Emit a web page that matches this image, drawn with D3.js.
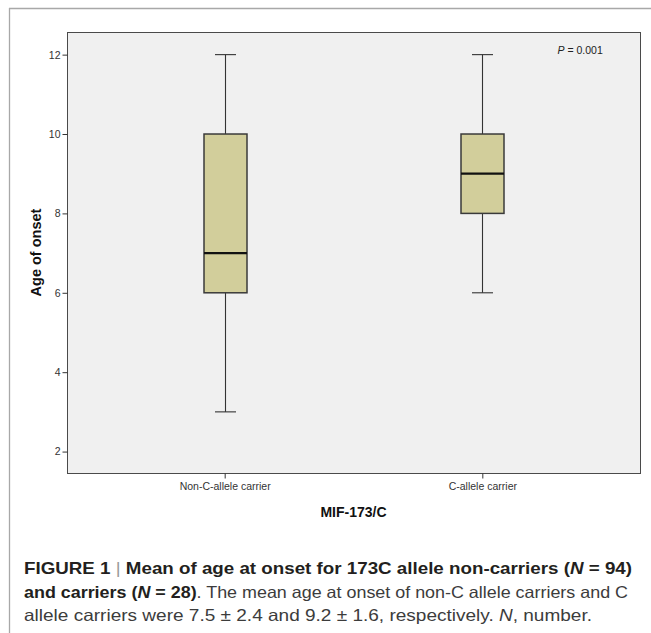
<!DOCTYPE html>
<html>
<head>
<meta charset="utf-8">
<script src="https://cdn.jsdelivr.net/npm/d3@7/dist/d3.min.js"></script>
<style>
  html, body { margin: 0; padding: 0; background: #fff; }
  svg { display: block; }
</style>
</head>
<body>
<svg id="chart" width="651" height="633"></svg>
<script>
// ---- data ----
const categories = ["Non-C-allele carrier", "C-allele carrier"];
const whiskerLow  = [3, 6];
const quartile1   = [6, 8];
const medians     = [7, 9];
const quartile3   = [10, 10];
const whiskerHigh = [12, 12];
const yTicks = [2, 4, 6, 8, 10, 12];
const yTitle = "Age of onset";
const xTitle = "MIF-173/C";
const pText = ["P", " = 0.001"];

const boxes = categories.map((c, i) => ({
  cat: c, lo: whiskerLow[i], q1: quartile1[i], med: medians[i], q3: quartile3[i], hi: whiskerHigh[i]
}));

// ---- layout ----
const svg = d3.select("#chart");
const plot = { left: 67, right: 640, top: 32, bottom: 473 };
const font = "Liberation Sans, Arial, Helvetica, sans-serif";

// figure frame (top and left rules)
svg.append("line").attr("x1", 9).attr("x2", 651).attr("y1", 8.5).attr("y2", 8.5)
  .attr("stroke", "#a8a8a8").attr("stroke-width", 1.3);
svg.append("line").attr("x1", 9.5).attr("x2", 9.5).attr("y1", 8).attr("y2", 633)
  .attr("stroke", "#a8a8a8").attr("stroke-width", 1.3);

const y = d3.scaleLinear().domain([1.46, 12.57]).range([plot.bottom, plot.top]);
const x = d3.scalePoint().domain(categories).range([plot.left, plot.right]).padding(0.612);

// plot background
svg.append("rect")
  .attr("x", plot.left + 0.5).attr("y", plot.top + 0.5)
  .attr("width", plot.right - plot.left).attr("height", plot.bottom - plot.top)
  .attr("fill", "#f0f0f0").attr("stroke", "#4a4a4a").attr("stroke-width", 1);

// y axis
const yAxis = svg.append("g")
  .attr("transform", `translate(${plot.left + 0.5},0)`)
  .call(d3.axisLeft(y).tickValues(yTicks).tickSize(5).tickPadding(2).tickFormat(d3.format("d")));
yAxis.select(".domain").remove();
yAxis.selectAll(".tick line").attr("stroke", "#333");
yAxis.selectAll(".tick text").attr("fill", "#333").style("font-family", font).style("font-size", "10.5px");

// x axis
const xAxis = svg.append("g")
  .attr("transform", `translate(0,${plot.bottom + 0.5})`)
  .call(d3.axisBottom(x).tickSize(5).tickPadding(4));
xAxis.select(".domain").remove();
xAxis.selectAll(".tick line").attr("stroke", "#333");
xAxis.selectAll(".tick text").attr("fill", "#333").style("font-family", font).style("font-size", "10.5px");

// boxes
const boxW = 43, capW = 21;
const g = svg.append("g");
boxes.forEach(b => {
  const cx = Math.round(x(b.cat)) + 0.5;
  // whiskers
  g.append("line").attr("x1", cx).attr("x2", cx).attr("y1", y(b.hi)).attr("y2", y(b.q3))
    .attr("stroke", "#333").attr("stroke-width", 1.1);
  g.append("line").attr("x1", cx).attr("x2", cx).attr("y1", y(b.q1)).attr("y2", y(b.lo))
    .attr("stroke", "#333").attr("stroke-width", 1.1);
  g.append("line").attr("x1", cx - capW / 2).attr("x2", cx + capW / 2).attr("y1", y(b.hi)).attr("y2", y(b.hi))
    .attr("stroke", "#333").attr("stroke-width", 1.1);
  g.append("line").attr("x1", cx - capW / 2).attr("x2", cx + capW / 2).attr("y1", y(b.lo)).attr("y2", y(b.lo))
    .attr("stroke", "#333").attr("stroke-width", 1.1);
  // box
  g.append("rect").attr("x", cx - boxW / 2).attr("width", boxW)
    .attr("y", y(b.q3)).attr("height", y(b.q1) - y(b.q3))
    .attr("fill", "#d2ce9b").attr("stroke", "#3a3a3a").attr("stroke-width", 1.5);
  // median
  g.append("line").attr("x1", cx - boxW / 2).attr("x2", cx + boxW / 2).attr("y1", y(b.med)).attr("y2", y(b.med))
    .attr("stroke", "#111").attr("stroke-width", 2.2);
});

// P value
const pt = svg.append("text").attr("x", 557.5).attr("y", 54)
  .style("font-family", font).style("font-size", "10.5px").attr("fill", "#222");
pt.append("tspan").style("font-style", "italic").text(pText[0]);
pt.append("tspan").text(pText[1]);

// axis titles
svg.append("text")
  .attr("transform", `translate(40.5,${(plot.top + plot.bottom) / 2}) rotate(-90)`)
  .attr("text-anchor", "middle")
  .style("font-family", font).style("font-size", "14.5px").style("font-weight", "bold").attr("fill", "#111")
  .text(yTitle);
svg.append("text")
  .attr("x", (plot.left + plot.right) / 2).attr("y", 516.5)
  .attr("text-anchor", "middle")
  .style("font-family", font).style("font-size", "14px").style("font-weight", "bold").attr("fill", "#111")
  .text(xTitle);

// caption
const capX = 24;
const capFont = "16.5px";
function capLine(yPos, width, parts) {
  const t = svg.append("text").attr("x", capX).attr("y", yPos)
    .attr("textLength", width).attr("lengthAdjust", "spacingAndGlyphs")
    .style("font-family", font).style("font-size", capFont);
  parts.forEach(p => {
    t.append("tspan").text(p.t)
      .attr("fill", p.c || (p.b ? "#231f20" : "#3c3c3c"))
      .style("font-weight", p.b ? "bold" : "normal")
      .style("font-style", p.i ? "italic" : "normal");
  });
  return t;
}
capLine(574, 608, [
  {t: "FIGURE 1 ", b: true},
  {t: "|", c: "#9a9a9a"},
  {t: " Mean of age at onset for 173C allele non-carriers (", b: true},
  {t: "N", b: true, i: true},
  {t: " = 94)", b: true}
]);
capLine(597.5, 604, [
  {t: "and carriers (", b: true},
  {t: "N", b: true, i: true},
  {t: " = 28)", b: true},
  {t: ". The mean age at onset of non-C allele carriers and C"}
]);
capLine(621, 568, [
  {t: "allele carriers were 7.5 ± 2.4 and 9.2 ± 1.6, respectively. "},
  {t: "N", i: true},
  {t: ", number."}
]);
</script>
</body>
</html>
